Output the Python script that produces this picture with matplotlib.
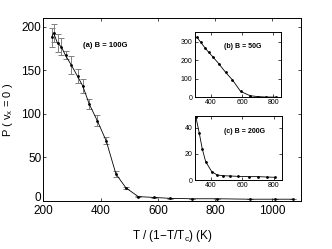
import matplotlib
matplotlib.use('Agg')
import matplotlib.pyplot as plt
from matplotlib.transforms import ScaledTranslation

plt.rcParams['font.family'] = ['Liberation Sans', 'DejaVu Sans']
plt.rcParams['mathtext.fontset'] = 'custom'
plt.rcParams['mathtext.rm'] = 'Liberation Sans'
plt.rcParams['mathtext.it'] = 'Liberation Sans'

# (a) B = 100G, main panel
t_a = [229, 235, 249, 262, 277, 297, 319, 337, 360, 388, 419, 453, 488, 531,
       586, 642, 718, 805, 920, 1007, 1070]
p_a = [188, 193, 181, 177, 167, 156, 143, 132, 111, 92, 69, 31, 15, 5,
       4, 3, 2.5, 2.5, 2, 2, 2]
err_a = [11, 10.5, 10.5, 10, 4.5, 10, 8, 8, 6, 6.5, 4, 3, 1.5, 1,
         0.5, 0.3, 0.3, 0.3, 0.3, 0.3, 0.3]

# (b) B = 50G
t_b = [310, 334, 361, 385, 415, 450, 494, 538, 590, 651, 700, 750, 815]
p_b = [325, 298, 268, 244, 216, 182, 135, 94, 32, 9, 4, 2, 1]

# (c) B = 200G
t_c = [304, 325, 344, 366, 405, 440, 479, 522, 575, 640, 700, 757, 806]
p_c = [48, 36, 24, 14, 6.4, 3.8, 3.3, 3.1, 2.8, 2.6, 2.6, 2.3, 2.1]

fig = plt.figure(figsize=(3.32, 2.49), dpi=100)
fig.set_facecolor('white')


def style(ax, size):
    ax.tick_params(direction='in', top=True, right=True, labelsize=size,
                   length=2, width=0.5, pad=1.5)
    for s in ax.spines.values():
        s.set_linewidth(0.7)


ax = fig.add_axes([0.131, 0.193, 0.776, 0.735])
ax.errorbar(t_a, p_a, yerr=err_a, color='black', lw=0.6, marker='.', ms=2,
            ecolor='#808080', elinewidth=0.7, capsize=2.2, capthick=0.7)
ax.set_xlim(200, 1100)
ax.set_ylim(0, 210)
ax.set_xticks([200, 400, 600, 800, 1000])
ax.set_yticks([0, 50, 100, 150, 200])
style(ax, 8.5)
ax.tick_params(axis='x', pad=3)
# lift the "0" on the y axis a little so it does not sit on the "200"
zero = ax.get_yticklabels()[0]
zero.set_transform(zero.get_transform()
                   + ScaledTranslation(0, 3 / 72, fig.dpi_scale_trans))
ax.set_xlabel('T / (1\u2212T/T$_c$) (K)', fontsize=8.5, labelpad=8)
ax.set_ylabel('P ( v$_x$ = 0 )', fontsize=8, labelpad=5)
ax.text(0.153, 0.847, '(a) B = 100G', transform=ax.transAxes,
        fontsize=5.5, fontweight='bold', va='center')

axb = fig.add_axes([0.586, 0.609, 0.261, 0.264])
axb.plot(t_b, p_b, color='black', lw=0.6, marker='.', ms=2)
axb.set_xlim(295, 850)
axb.set_ylim(0, 355)
axb.set_xticks([400, 600, 800])
axb.set_yticks([0, 100, 200, 300])
style(axb, 5)
axb.text(0.34, 0.78, '(b) B = 50G', transform=axb.transAxes,
         fontsize=5, fontweight='bold', va='center')

axc = fig.add_axes([0.586, 0.277, 0.262, 0.257])
axc.plot(t_c, p_c, color='black', lw=0.6, marker='.', ms=2)
axc.set_xlim(295, 850)
axc.set_ylim(0, 49)
axc.set_xticks([400, 600, 800])
axc.set_yticks([0, 20, 40])
style(axc, 5)
axc.text(0.34, 0.755, '(c) B = 200G', transform=axc.transAxes,
         fontsize=5, fontweight='bold', va='center')

fig.savefig('out.png', dpi=100)
